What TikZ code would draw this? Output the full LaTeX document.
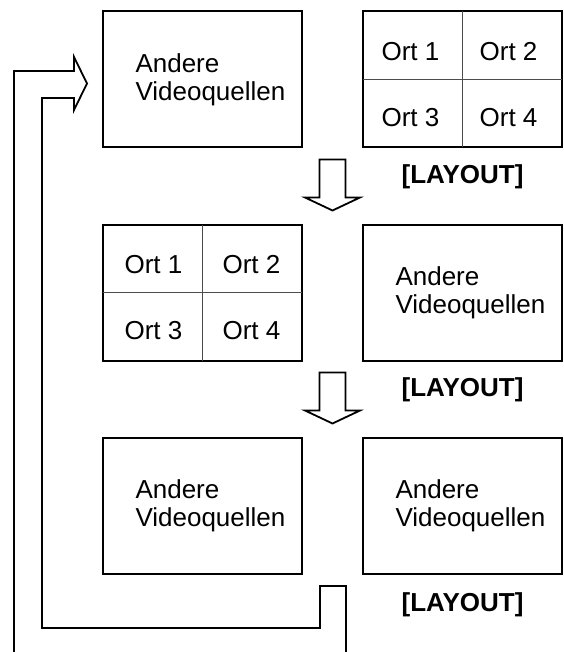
\documentclass[tikz,border=0pt]{standalone}
\usepackage{fontspec}
\setmainfont{Liberation Sans}
\usetikzlibrary{positioning,calc}

\tikzset{
  dnarr/.pic={\draw[blk] (-13,0) -- (13,0) -- (13,-38) -- (27.5,-38) -- (0,-51) -- (-27.5,-38) -- (-13,-38) -- cycle;}
}

\begin{document}
\begin{tikzpicture}[
  x=1pt, y=1pt,
  font=\fontsize{26}{28}\selectfont,
  vbox/.style={rectangle, draw=black, line width=2pt, outer sep=0pt, inner sep=0pt,
               minimum width=199pt, minimum height=136pt, text width=134pt, align=left},
  frame/.style={rectangle, draw=black, line width=2pt, outer sep=0pt, inner sep=0pt,
                minimum width=199pt, minimum height=136pt},
  divider/.style={draw=black!70, line width=1pt},
  cellt/.style={inner sep=0pt},
  tag/.style={font=\fontsize{26}{28}\selectfont\bfseries, inner sep=3pt},
  blk/.style={draw=black, line width=1.8pt, line join=miter},
]
\useasboundingbox (0,0) rectangle (563,-652);

% first row
\node[vbox] (src1) at (202.5,-79.5) {Andere\\Videoquellen};
\node[frame, right=61pt of src1] (grid1) {};
\draw[divider] (grid1.north) -- (grid1.south);
\draw[divider] (grid1.west) -- (grid1.east);
\node[cellt] (g1a) at ($(grid1.center)+(-52,28)$) {Ort 1};
\node[cellt] (g1b) at ($(grid1.center)+(46,28)$) {Ort 2};
\node[cellt] (g1c) at ($(grid1.center)+(-52,-38)$) {Ort 3};
\node[cellt] (g1d) at ($(grid1.center)+(46,-38)$) {Ort 4};
\node[tag, below=14pt of grid1] (lay1) {[LAYOUT]};

% second row
\node[frame, below=77pt of src1] (grid2) {};
\draw[divider] (grid2.north) -- (grid2.south);
\draw[divider] (grid2.west) -- (grid2.east);
\node[cellt] (g2a) at ($(grid2.center)+(-49,28)$) {Ort 1};
\node[cellt] (g2b) at ($(grid2.center)+(49,28)$) {Ort 2};
\node[cellt] (g2c) at ($(grid2.center)+(-49,-38)$) {Ort 3};
\node[cellt] (g2d) at ($(grid2.center)+(49,-38)$) {Ort 4};
\node[vbox, below=77pt of grid1] (src2) {Andere\\Videoquellen};
\node[tag, below=14pt of src2] (lay2) {[LAYOUT]};

% third row
\node[vbox, below=77pt of grid2] (src3) {Andere\\Videoquellen};
\node[vbox, below=77pt of src2] (src4) {Andere\\Videoquellen};
\node[tag, below=16pt of src4] (lay3) {[LAYOUT]};

% block arrows between rows
\coordinate (dn1) at ($(src1.south east)!0.5!(grid1.south west)+(0,-12)$);
\coordinate (dn2) at ($(grid2.south east)!0.5!(src2.south west)+(0,-12)$);
\pic at (dn1) {dnarr};
\pic at (dn2) {dnarr};

% return arrow back to the first source
\coordinate (retfoot) at (333,-652);
\coordinate (rettip) at ([shift={(-16,-4)}]src1.west);
\draw[blk] ([xshift=13pt]retfoot) -- (346,-586) -- (320,-586) -- (320,-628) -- (42,-628) -- (42,-98)
  -- (74,-98) -- (74,-110) -- (rettip) -- (74,-57) -- (74,-71) -- (14,-71) -- (14,-652);
\end{tikzpicture}
\end{document}
